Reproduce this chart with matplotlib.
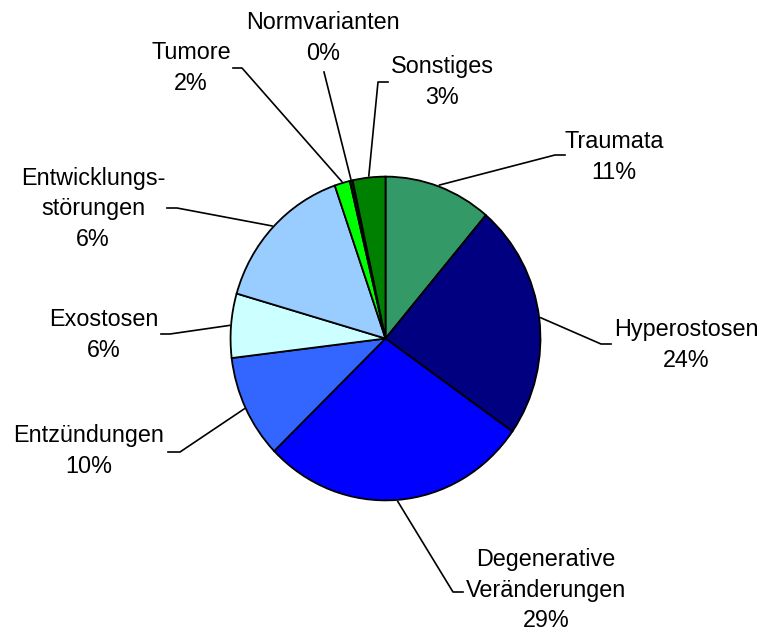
import numpy as np
import matplotlib
matplotlib.use("Agg")
import matplotlib.pyplot as plt

plt.rcParams['font.family'] = ['Liberation Sans', 'DejaVu Sans']

# Data (slice sizes, labels as printed)
categories = ["Traumata", "Hyperostosen", "Degenerative\nVeränderungen", "Entzündungen",
              "Exostosen", "Entwicklungs-\nstörungen", "Tumore", "Normvarianten", "Sonstiges"]
shares = [11.2, 23.5, 28.0, 10.3, 6.4, 15.2, 1.6, 0.3, 3.4]
pct_labels = ["11%", "24%", "29%", "10%", "6%", "6%", "2%", "0%", "3%"]
colors = ["#339966", "#000080", "#0000FF", "#3366FF", "#CCFFFF",
          "#99CCFF", "#00FF00", "#002200", "#008000"]

# Layout (pixel positions of label text, leader elbows and stub ends)
label_pos = [(614, 157), (686, 345), (546, 590), (89, 451), (104, 335),
             (93, 209), (191, 68), (323, 38), (442, 82)]
elbows = [(555, 155), (601, 344), (453, 592), (180, 452), (170, 334),
          (177, 208), (242, 68), (324, 72), (378, 82)]
stubs = [(565, 155), (611, 344), (463, 592), (168, 452), (161, 334),
         (167, 208), (233, 68), (324, 72), (388, 82)]

W, H = 762, 632
cx, cy, rx, ry = 385.5, 338.5, 156.5, 163.5

fig = plt.figure(figsize=(W / 100, H / 100), dpi=100)

# pie axes sized to the pie's bounding box
ax_pie = fig.add_axes([(cx - rx) / W, (H - cy - ry) / H, 2 * rx / W, 2 * ry / H])
wedges, _ = ax_pie.pie(shares, colors=colors, startangle=90, counterclock=False,
                       radius=1, wedgeprops=dict(edgecolor="black", linewidth=1.3))
ax_pie.set_xlim(-1.01, 1.01)
ax_pie.set_ylim(-1.01, 1.01)
ax_pie.set_aspect("auto")
ax_pie.axis("off")

# overlay axes in pixel coordinates for labels and leader lines
ax = fig.add_axes([0, 0, 1, 1])
ax.set_xlim(0, W)
ax.set_ylim(H, 0)
ax.axis("off")

for w, name, pct, (tx, ty), (ex, ey), (sx, sy) in zip(
        wedges, categories, pct_labels, label_pos, elbows, stubs):
    mid = np.deg2rad((w.theta1 + w.theta2) / 2)
    px = cx + rx * np.cos(mid)
    py = cy - ry * np.sin(mid)
    ax.plot([px, ex, sx], [py, ey, sy], color="black", lw=1.2)
    ax.text(tx, ty, name + "\n" + pct, ha="center", va="center",
            fontsize=16.8, linespacing=1.42, color="black")

fig.savefig("out.png", dpi=100)
